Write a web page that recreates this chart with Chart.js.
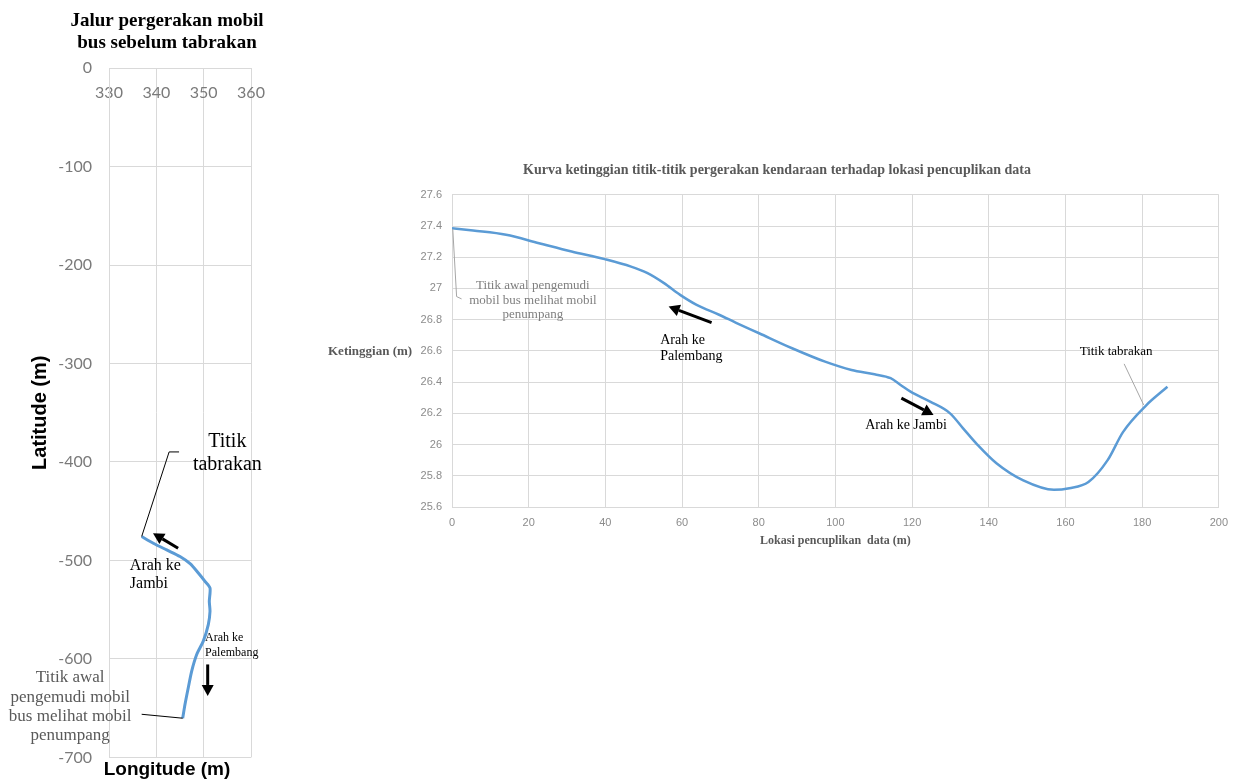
<!DOCTYPE html>
<html>
<head>
<meta charset="utf-8">
<script src="https://cdn.jsdelivr.net/npm/chart.js@4"></script>
<style>
  body { margin: 0; background: #fff; width: 1253px; height: 784px; overflow: hidden; position: relative; }
  #route { position: absolute; left: 0; top: 0; }
  #elev { position: absolute; left: 325px; top: 150px; }
</style>
</head>
<body>
<canvas id="route" width="334" height="784"></canvas>
<canvas id="elev" width="912" height="410"></canvas>
<script>
// left chart: bus path (longitude / latitude, m)
var routeLon = [345.57, 346.06, 346.75, 347.47, 348.53, 349.92, 350.98, 351.34, 351.19, 351.34, 350.28, 348.87, 347.2, 345.0, 342.19, 339.36, 336.91];
var routeLat = [-660.2, -646.1, -629.2, -612.3, -595.5, -581.9, -565.1, -551.6, -541.5, -528.0, -521.2, -512.8, -503.5, -496.0, -489.3, -482.5, -475.7];

// right chart: elevation vs sampling location
var elevDist = [0, 5.5, 14.1, 22.7, 31.2, 39.8, 46.7, 51, 55.3, 59.5, 63.8, 69.8, 74.1, 80.1, 88.7, 97.3, 104.2, 110.2, 114.4, 117, 119.6, 124.7, 129.9, 133.3, 137, 142, 149, 157, 161, 166, 171, 175, 181, 186.6];
var elevHeight = [27.386, 27.371, 27.344, 27.29, 27.237, 27.188, 27.14, 27.098, 27.034, 26.959, 26.895, 26.83, 26.78, 26.713, 26.617, 26.531, 26.478, 26.45, 26.425, 26.382, 26.339, 26.275, 26.2, 26.104, 26.0, 25.88, 25.77, 25.71, 25.72, 25.76, 25.9, 26.08, 26.25, 26.37];

// annotations, in data coordinates of each chart
var routeTexts = [
  { lines: ['Titik', 'tabrakan'], x: 355.0, y: [-379, -403], font: '20px "Liberation Serif"', color: '#000', align: 'center' },
  { lines: ['Arah ke', 'Jambi'], x: 334.4, y: [-505, -524], font: '16px "Liberation Serif"', color: '#000', align: 'left' },
  { lines: ['Arah ke', 'Palembang'], x: 350.3, y: [-579, -594], font: '12px "Liberation Serif"', color: '#000', align: 'left' },
  { lines: ['Titik awal', 'pengemudi mobil', 'bus melihat mobil', 'penumpang'], x: 321.8, y: [-619, -639, -658, -678], font: '17px "Liberation Serif"', color: '#595959', align: 'center' }
];
var routeArrows = [
  { from: [344.6, -487.6], to: [339.3, -472.4] },
  { from: [350.85, -605.6], to: [350.85, -637.6] }
];
var routeLeaders = [
  [[336.9, -475.7], [342.7, -389.8], [344.8, -389.8]],
  [[336.9, -656.2], [345.57, -660.2]]
];

var elevTexts = [
  { lines: ['Titik awal pengemudi', 'mobil bus melihat mobil', 'penumpang'], x: 21.1, y: [27.017, 26.923, 26.831], font: '13px "Liberation Serif"', color: '#7f7f7f', align: 'center' },
  { lines: ['Arah ke', 'Palembang'], x: 54.3, y: [26.67, 26.564], font: '14px "Liberation Serif"', color: '#000', align: 'left' },
  { lines: ['Arah ke Jambi'], x: 118.4, y: [26.126], font: '14px "Liberation Serif"', color: '#000', align: 'center' },
  { lines: ['Titik tabrakan'], x: 173.2, y: [26.594], font: '13px "Liberation Serif"', color: '#000', align: 'center' }
];
var elevArrows = [
  { from: [67.7, 26.781], to: [56.5, 26.884] },
  { from: [117.2, 26.297], to: [125.6, 26.19] }
];
var elevLeaders = [
  [[0.2, 27.38], [1.2, 26.948], [2.5, 26.933]],
  [[175.3, 26.517], [180.4, 26.254]]
];

function toPoints(xs, ys) {
  return xs.map(function(x, i) { return { x: x, y: ys[i] }; });
}

function makeNotes(texts, arrows, leaders, leaderColor, extra) {
  return {
    id: 'notes',
    afterDatasetsDraw: function(chart) {
      var ctx = chart.ctx, sx = chart.scales.x, sy = chart.scales.y;
      function px(p) { return [sx.getPixelForValue(p[0]), sy.getPixelForValue(p[1])]; }
      ctx.save();
      ctx.strokeStyle = leaderColor;
      ctx.lineWidth = 1;
      leaders.forEach(function(l) {
        ctx.beginPath();
        l.forEach(function(p, i) {
          var q = px(p);
          if (i === 0) ctx.moveTo(q[0], q[1]); else ctx.lineTo(q[0], q[1]);
        });
        ctx.stroke();
      });
      arrows.forEach(function(a) {
        var s = px(a.from), e = px(a.to);
        var ang = Math.atan2(e[1] - s[1], e[0] - s[0]);
        var hl = 11, hw = 6;
        var bx = e[0] - hl * Math.cos(ang), by = e[1] - hl * Math.sin(ang);
        ctx.strokeStyle = '#000';
        ctx.fillStyle = '#000';
        ctx.lineWidth = 3;
        ctx.beginPath();
        ctx.moveTo(s[0], s[1]);
        ctx.lineTo(bx, by);
        ctx.stroke();
        ctx.beginPath();
        ctx.moveTo(e[0], e[1]);
        ctx.lineTo(bx + hw * Math.sin(ang), by - hw * Math.cos(ang));
        ctx.lineTo(bx - hw * Math.sin(ang), by + hw * Math.cos(ang));
        ctx.closePath();
        ctx.fill();
      });
      ctx.textBaseline = 'middle';
      texts.forEach(function(t) {
        ctx.font = t.font;
        ctx.fillStyle = t.color;
        ctx.textAlign = t.align;
        t.lines.forEach(function(line, i) {
          var q = px([t.x, t.y[i]]);
          ctx.fillText(line, q[0], q[1]);
        });
      });
      if (extra) extra(chart, ctx);
      ctx.restore();
    }
  };
}

new Chart(document.getElementById('route').getContext('2d'), {
  type: 'scatter',
  data: {
    datasets: [{
      data: toPoints(routeLon, routeLat),
      showLine: true,
      borderColor: '#5b9bd5',
      borderWidth: 3,
      pointRadius: 0,
      tension: 0.25
    }]
  },
  options: {
    responsive: false,
    animation: false,
    layout: { autoPadding: false, padding: 0 },
    plugins: {
      legend: { display: false },
      tooltip: { enabled: false },
      title: {
        display: true,
        text: ['Jalur pergerakan mobil', 'bus sebelum tabrakan'],
        color: '#000',
        font: { family: '"Liberation Serif"', size: 19, weight: 'bold', lineHeight: 1.16 },
        padding: { top: 10, bottom: 14 }
      },
      subtitle: {
        display: true,
        position: 'bottom',
        text: 'Longitude (m)',
        color: '#000',
        font: { family: '"Liberation Sans"', size: 19, weight: 'bold', lineHeight: 1.15 },
        padding: { top: 1, bottom: 1 }
      }
    },
    scales: {
      x: {
        type: 'linear',
        position: { y: 0 },
        min: 330, max: 360,
        ticks: { stepSize: 10, padding: 15, color: '#7a7a7a', font: { family: 'Lato', size: 16 } },
        grid: { color: '#d9d9d9', drawTicks: false },
        border: { color: '#d9d9d9' }
      },
      y: {
        min: -700, max: 0,
        ticks: { stepSize: 100, padding: 17, color: '#7a7a7a', font: { family: 'Lato', size: 16 } },
        grid: { color: '#d9d9d9', drawTicks: false },
        border: { color: '#d9d9d9' },
        title: {
          display: true,
          text: 'Latitude (m)',
          color: '#000',
          font: { family: '"Liberation Sans"', size: 20, weight: 'bold', lineHeight: 1.2 },
          padding: { top: 28, bottom: 0 }
        },
        afterFit: function(scale) { scale.width = 109; }
      },
      // empty right axis that only reserves space so the titles centre like the original
      yPad: {
        position: 'right',
        display: true,
        ticks: { display: false },
        grid: { display: false },
        border: { display: false },
        afterFit: function(scale) { scale.width = 83; }
      }
    }
  },
  plugins: [makeNotes(routeTexts, routeArrows, routeLeaders, '#000')]
});

new Chart(document.getElementById('elev').getContext('2d'), {
  type: 'scatter',
  data: {
    datasets: [{
      data: toPoints(elevDist, elevHeight),
      showLine: true,
      borderColor: '#5b9bd5',
      borderWidth: 2.5,
      pointRadius: 0,
      cubicInterpolationMode: 'monotone'
    }]
  },
  options: {
    responsive: false,
    animation: false,
    layout: { autoPadding: false, padding: { left: 0, right: 8, top: 0, bottom: 0 } },
    plugins: {
      legend: { display: false },
      tooltip: { enabled: false },
      title: {
        display: true,
        text: 'Kurva ketinggian titik-titik pergerakan kendaraan terhadap lokasi pencuplikan data',
        color: '#595959',
        font: { family: '"Liberation Serif"', size: 14, weight: 'bold', lineHeight: 1.2 },
        padding: { top: 12, bottom: 16 }
      }
    },
    scales: {
      x: {
        type: 'linear',
        min: 0, max: 200,
        ticks: { stepSize: 20, padding: 9, color: '#8c8c8c', font: { family: '"Liberation Sans"', size: 11 } },
        grid: { color: '#d9d9d9', drawTicks: false },
        border: { color: '#d9d9d9' },
        title: {
          display: true,
          text: 'Lokasi pencuplikan  data (m)',
          color: '#595959',
          font: { family: '"Liberation Serif"', size: 12, weight: 'bold', lineHeight: 1.2 },
          padding: { top: 0, bottom: 12 }
        },
        afterFit: function(scale) { scale.height = 53; }
      },
      y: {
        min: 25.6, max: 27.6,
        ticks: {
          stepSize: 0.2, padding: 10, color: '#8c8c8c', font: { family: '"Liberation Sans"', size: 11 },
          callback: function(v) { return String(Math.round(v * 10) / 10); }
        },
        grid: { color: '#d9d9d9', drawTicks: false },
        border: { color: '#d9d9d9' },
        afterFit: function(scale) { scale.width = 127; }
      }
    }
  },
  plugins: [makeNotes(elevTexts, elevArrows, elevLeaders, '#a6a6a6', function(chart, ctx) {
    // horizontal y-axis title, as in the original
    var a = chart.chartArea;
    ctx.font = 'bold 13px "Liberation Serif"';
    ctx.fillStyle = '#595959';
    ctx.textAlign = 'left';
    ctx.fillText('Ketinggian (m)', 3, (a.top + a.bottom) / 2 + 1);
  })]
});
</script>
</body>
</html>
